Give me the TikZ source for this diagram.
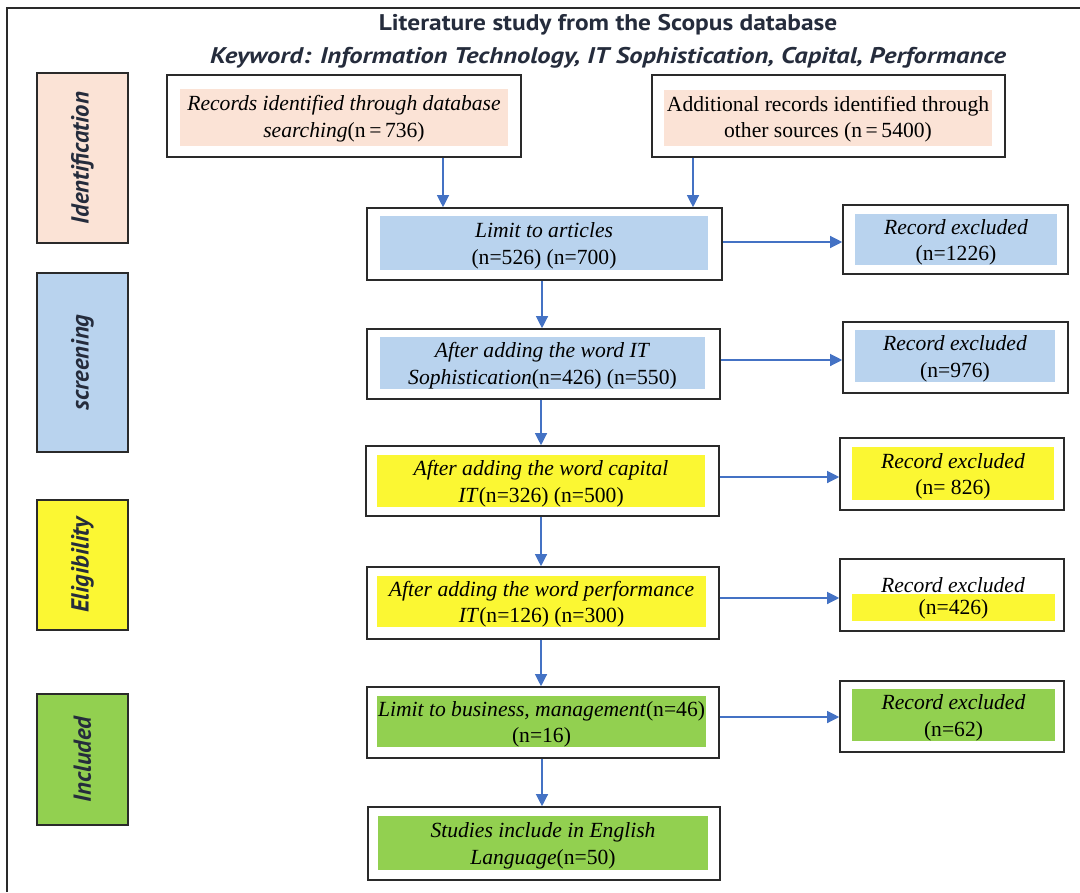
\documentclass[tikz,border=0pt]{standalone}
\usepackage{fontspec}
\setmainfont{Liberation Serif}
\newfontfamily\headfont{PT Sans}
\usetikzlibrary{fit,arrows.meta}
\definecolor{peach}{HTML}{FBE3D6}
\definecolor{lblue}{HTML}{B9D3EE}
\definecolor{lyellow}{HTML}{FBF733}
\definecolor{lgreen}{HTML}{92D050}
\definecolor{arrblue}{HTML}{4472C4}
\definecolor{stagetxt}{HTML}{252C3C}
\definecolor{edge}{HTML}{2A2A2A}
\begin{document}
\begin{tikzpicture}[x=0.75pt,y=-0.75pt,
  frame/.style={line width=1.3pt,draw=edge},
  obox/.style={draw=edge,line width=1.2pt,fill=white,inner sep=0pt},
  fbox/.style={inner sep=0pt},
  txt/.style={inner sep=0pt,align=center,yshift=-2pt,font=\fontsize{16.2}{20}\selectfont},
  stagebox/.style={draw=edge,line width=0.9pt,inner sep=0pt},
  stagetext/.style={rotate=90,text=stagetxt,font=\headfont\bfseries\itshape\fontsize{18.5}{20}\selectfont},
  arr/.style={draw=arrblue,line width=0.9pt,-{Triangle[length=9pt,width=9pt]}}]
\useasboundingbox (0,0) rectangle (1080,892);
\draw[frame] (7,892) -- (7,8) -- (1080,8);
% titles
\node[font=\headfont\bfseries\fontsize{17}{20}\selectfont,text=stagetxt] (t1) at (608,24.5) {\scalebox{1.12}[1]{Literature study from the Scopus database}};
\node[font=\headfont\bfseries\itshape\fontsize{17}{20}\selectfont,text=stagetxt] (t2) at (608,57.5) {\scalebox{1.17}[1]{Keyword: Information Technology, IT Sophistication, Capital, Performance}};
% stage boxes
\node[stagebox,fill=peach,fit={(37,73) (128,243)}] (s1) {};
\node[stagetext] (s1t) at (s1.center) {Identification};
\node[stagebox,fill=lblue,fit={(37,273) (128,452)}] (s2) {};
\node[stagetext] (s2t) at (s2.center) {screening};
\node[stagebox,fill=lyellow,fit={(37,500) (128,630)}] (s3) {};
\node[stagetext] (s3t) at (s3.center) {Eligibility};
\node[stagebox,fill=lgreen,fit={(37,694) (128,825)}] (s4) {};
\node[stagetext] (s4t) at (s4.center) {Included};
% identification boxes
\node[obox,fit={(167,75) (521,157)}] (A) {};
\node[fbox,fill=peach,fit={(180,89) (508,146)}] (Ai) {};
\node[txt,yshift=1pt] (At) at (Ai.center) {\textit{Records identified through database}\\\textit{searching}(n\,=\,736)};
\node[obox,fit={(652,75) (1005,157)}] (B) {};
\node[fbox,fill=peach,fit={(664,90) (992,146)}] (Bi) {};
\node[txt,yshift=1pt] (Bt) at (Bi.center) {Additional records identified through\\other sources (n\,=\,5400)};
% main column
\node[obox,fit={(367,208) (722,280)}] (C) {};
\node[fbox,fill=lblue,fit={(380,216) (708,270)}] (Ci) {};
\node[txt] (Ct) at (Ci.center) {\textit{Limit to articles}\\(n=526) (n=700)};
\node[obox,fit={(367,329) (720,399)}] (D) {};
\node[fbox,fill=lblue,fit={(380,337) (705,389)}] (Di) {};
\node[txt] (Dt) at (Di.center) {\textit{After adding the word IT}\\\textit{Sophistication}(n=426) (n=550)};
\node[obox,fit={(366,446) (719,516)}] (E) {};
\node[fbox,fill=lyellow,fit={(377,455) (705,507)}] (Ei) {};
\node[txt] (Et) at (Ei.center) {\textit{After adding the word capital}\\\textit{IT}(n=326) (n=500)};
\node[obox,fit={(367,567) (719,639)}] (F) {};
\node[fbox,fill=lyellow,fit={(377,576) (706,627)}] (Fi) {};
\node[txt] (Ft) at (Fi.center) {\textit{After adding the word performance}\\\textit{IT}(n=126) (n=300)};
\node[obox,fit={(367,687) (719,758)}] (G) {};
\node[fbox,fill=lgreen,fit={(377,696) (706,747)}] (Gi) {};
\node[txt] (Gt) at (Gi.center) {\textit{Limit to business, management}(n=46)\\(n=16)};
\node[obox,fit={(368,807) (720,880)}] (H) {};
\node[fbox,fill=lgreen,fit={(378,816) (708,870)}] (Hi) {};
\node[txt] (Ht) at (Hi.center) {\textit{Studies include in English}\\\textit{Language}(n=50)};
% excluded boxes
\node[obox,fit={(843,205) (1068,274)}] (X1) {};
\node[fbox,fill=lblue,fit={(855,214) (1057,265)}] (X1i) {};
\node[txt] (X1t) at (X1i.center) {\textit{Record excluded}\\(n=1226)};
\node[obox,fit={(843,322) (1068,393)}] (X2) {};
\node[fbox,fill=lblue,fit={(855,330) (1055,382)}] (X2i) {};
\node[txt] (X2t) at (X2i.center) {\textit{Record excluded}\\(n=976)};
\node[obox,fit={(840,438) (1064,510)}] (X3) {};
\node[fbox,fill=lyellow,fit={(852,447) (1054,500)}] (X3i) {};
\node[txt] (X3t) at (X3i.center) {\textit{Record excluded}\\(n= 826)};
\node[obox,fit={(840,559) (1064,631)}] (X4) {};
\node[fbox,fill=lyellow,fit={(852,594) (1055,621)}] (X4i) {};
\node[txt,yshift=1pt] (X4n) at (X4i.center) {(n=426)};
\node[txt] (X4t) at (953,582) {\textit{Record excluded}};
\node[obox,fit={(840,681) (1064,752)}] (X5) {};
\node[fbox,fill=lgreen,fit={(852,689) (1055,741)}] (X5i) {};
\node[txt] (X5t) at (X5i.center) {\textit{Record excluded}\\(n=62)};
% arrows
\draw[arr] (A.south -| 443,0) -- (C.north -| 443,0);
\draw[arr] (B.south -| 693,0) -- (C.north -| 693,0);
\draw[arr] (C.south -| 542,0) -- (D.north -| 542,0);
\draw[arr] (D.south -| 541,0) -- (E.north -| 541,0);
\draw[arr] (E.south -| 541,0) -- (F.north -| 541,0);
\draw[arr] (F.south -| 541,0) -- (G.north -| 541,0);
\draw[arr] (G.south -| 542,0) -- (H.north -| 542,0);
\draw[arr] (C.east |- 0,242) -- (X1.west |- 0,242);
\draw[arr] (D.east |- 0,360) -- (X2.west |- 0,360);
\draw[arr] (E.east |- 0,477) -- (X3.west |- 0,477);
\draw[arr] (F.east |- 0,598) -- (X4.west |- 0,598);
\draw[arr] (G.east |- 0,717) -- (X5.west |- 0,717);
\end{tikzpicture}
\end{document}
